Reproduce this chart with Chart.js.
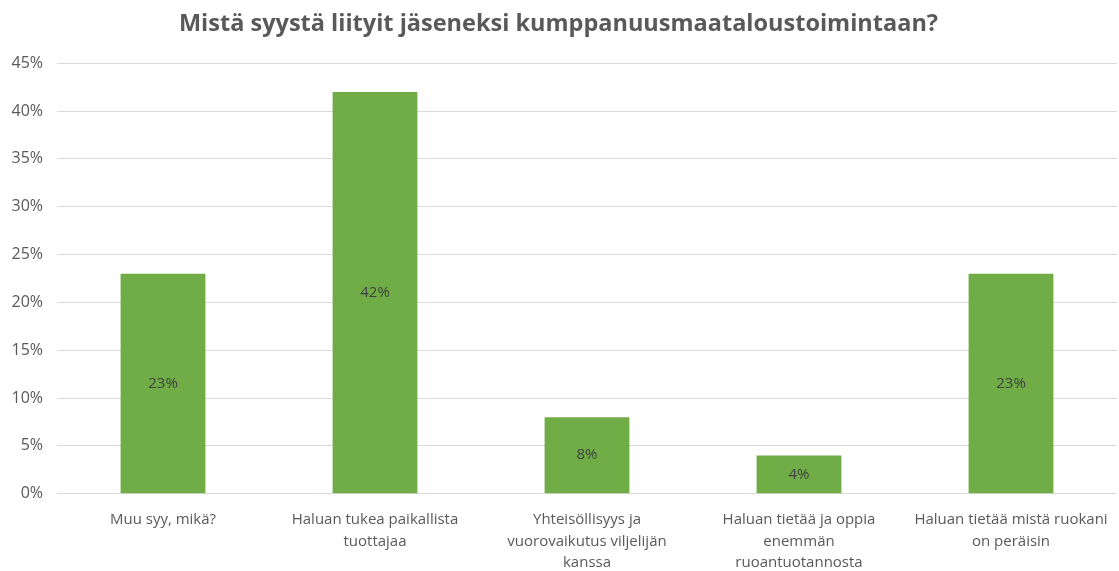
<!DOCTYPE html>
<html>
<head>
<meta charset="utf-8">
<script src="https://cdn.jsdelivr.net/npm/chart.js@4"></script>
<style>
  html, body { margin: 0; padding: 0; background: #fff; }
  #wrap { width: 1119px; height: 571px; position: relative; }
</style>
</head>
<body>
<div id="wrap"><canvas id="grafico"></canvas></div>
<script>
const otsikko = "Mistä syystä liityit jäseneksi kumppanuusmaataloustoimintaan?";
const kategoriat = [
    ["Muu syy, mikä?"],
    ["Haluan tukea paikallista", "tuottajaa"],
    ["Yhteisöllisyys ja", "vuorovaikutus viljelijän", "kanssa"],
    ["Haluan tietää ja oppia", "enemmän", "ruoantuotannosta"],
    ["Haluan tietää mistä ruokani", "on peräisin"]
];
const osuudet = [23, 42, 8, 4, 23];

// arvot palkkien keskelle
const arvoTekstit = {
    id: "arvoTekstit",
    afterDatasetsDraw(chart) {
        const ctx = chart.ctx;
        const meta = chart.getDatasetMeta(0);
        ctx.save();
        ctx.font = "15px 'Open Sans'";
        ctx.fillStyle = "#404040";
        ctx.textAlign = "center";
        ctx.textBaseline = "middle";
        meta.data.forEach((bar, i) => {
            const y = (bar.y + bar.base) / 2;
            ctx.fillText(osuudet[i] + "%", bar.x, y);
        });
        ctx.restore();
    }
};

new Chart(document.getElementById("grafico"), {
    type: "bar",
    data: {
        labels: kategoriat,
        datasets: [{
            data: osuudet,
            backgroundColor: "#70AD47",
            categoryPercentage: 1,
            barPercentage: 0.4
        }]
    },
    options: {
        responsive: true,
        maintainAspectRatio: false,
        animation: false,
        layout: { padding: { left: 0, right: 2, top: 0, bottom: -10 } },
        plugins: {
            legend: { display: false },
            tooltip: { enabled: false },
            title: {
                display: true,
                text: otsikko,
                color: "#595959",
                font: { family: "'Open Sans'", size: 23.5, weight: "bold" },
                padding: { top: 10, bottom: 25 }
            }
        },
        scales: {
            x: {
                grid: { display: false },
                border: { display: false },
                ticks: {
                    color: "#595959",
                    font: { family: "'Open Sans'", size: 15, lineHeight: 1.45 },
                    maxRotation: 0,
                    autoSkip: false,
                    padding: 7
                }
            },
            y: {
                min: 0,
                max: 45,
                grid: { color: "#d9d9d9", drawTicks: false },
                border: { display: false },
                afterFit: scale => { scale.width = 57; },
                ticks: {
                    stepSize: 5,
                    color: "#595959",
                    font: { family: "'Open Sans'", size: 16 },
                    padding: 14,
                    callback: v => v + "%"
                }
            }
        }
    },
    plugins: [arvoTekstit]
});
</script>
</body>
</html>
